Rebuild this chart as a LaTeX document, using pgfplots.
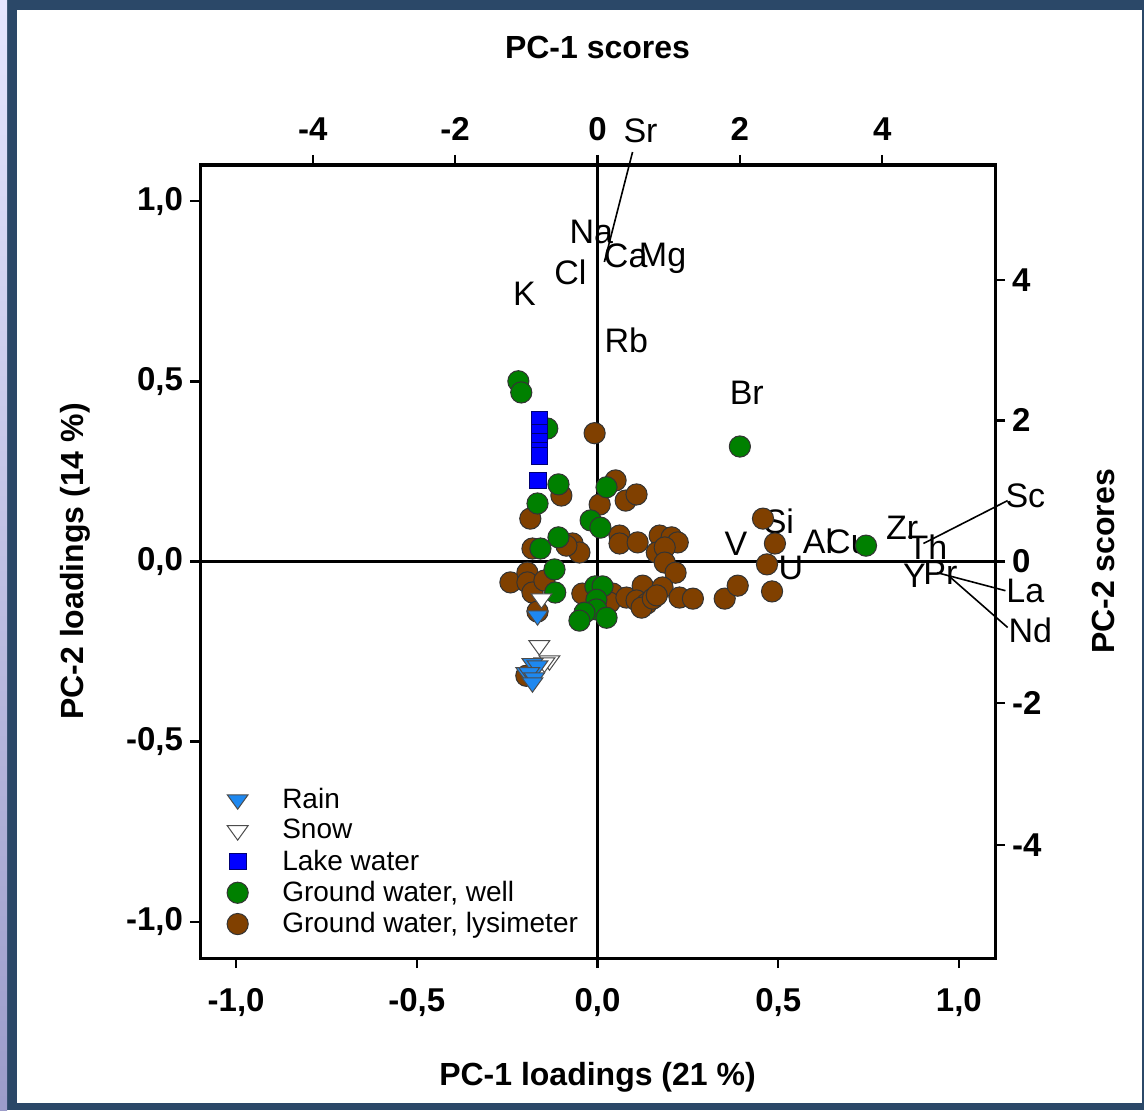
\documentclass[border=0pt]{standalone}
\usepackage{pgfplots}
\pgfplotsset{compat=1.18}
\usepackage{fontspec}
\setmainfont{Liberation Sans}
\definecolor{frame}{HTML}{2B4868}
\definecolor{gwell}{HTML}{008000}
\definecolor{glys}{HTML}{804000}
\definecolor{lake}{HTML}{0000FF}
\definecolor{rain}{HTML}{1E88F0}
\pgfplotsset{
  common/.style={at={(100pt,76pt)}, anchor=south west, width=397.5pt, height=396.5pt, scale only axis,
    xmin=-1.1,xmax=1.1,ymin=-1.1,ymax=1.1, clip=false,
    axis line style={line width=1.5pt},
    tick align=outside, major tick length=5pt, tick style={black,line width=1.3pt},
    ticklabel style={font=\bfseries\fontsize{16.5}{19}\selectfont}},
}
\begin{document}
\begin{tikzpicture}
\useasboundingbox (0,0) rectangle (572pt,555pt);
\fill[frame] (0,0) rectangle (572pt,555pt);
\shade[top color=blue!10!white, bottom color=gray!70!blue!60] (0,0) rectangle (3.5pt,555pt);
\fill[white] (8.5pt,3.5pt) rectangle (571pt,550pt);

\begin{axis}[common,
  xtick pos=left, ytick pos=left,
  xtick={-1,-0.5,0,0.5,1}, xticklabels={{-1,0},{-0,5},{0,0},{0,5},{1,0}},
  ytick={-1,-0.5,0,0.5,1}, yticklabels={{-1,0},{-0,5},{0,0},{0,5},{1,0}},
  xticklabel style={yshift=-6.5pt},
  xlabel={PC-1 loadings (21 \%)}, ylabel={PC-2 loadings (14 \%)},
  every axis x label/.style={at={(axis description cs:0.5,0)}, yshift=-59.5pt, anchor=center, font=\bfseries\fontsize{16}{19}\selectfont},
  every axis y label/.style={at={(axis description cs:0,0.5)}, xshift=-62.5pt, anchor=center, rotate=90, font=\bfseries\fontsize{16}{19}\selectfont},
  legend style={draw=none, fill=none, at={(0.026,0.225)}, anchor=north west,
    font=\fontsize{14}{15.5}\selectfont, row sep=0pt,
    /tikz/every odd column/.append style={column sep=15pt}},
  legend cell align=left,
]
\addplot[forget plot, black, line width=1.2pt] coordinates {(-1.1,0) (1.1,0)};
\addplot[forget plot, black, line width=1.2pt] coordinates {(0,-1.1) (0,1.1)};

% Ground water, lysimeter
\addplot[forget plot, only marks, mark=*, mark size=5.3pt, mark options={fill=glys, draw=black!80, line width=0.5pt}] coordinates {
(-0.008,0.356) (0.050,0.225) (-0.100,0.183) (0.006,0.158) (0.078,0.169) (0.108,0.186)
(-0.186,0.119) (0.061,0.072) (0.061,0.050) (0.111,0.053) (0.172,0.072) (0.205,0.067)
(0.222,0.053) (0.164,0.025) (0.186,0.039) (0.186,-0.003) (0.216,-0.031)
(-0.180,0.036) (-0.069,0.050) (-0.050,0.025) (-0.086,0.044)
(-0.241,-0.058) (-0.194,-0.031) (-0.194,-0.058) (-0.180,-0.086) (-0.147,-0.053) (-0.166,-0.139)
(-0.042,-0.089) (0.019,-0.089) (0.042,-0.089) (0.033,-0.114) (0.080,-0.100) (0.125,-0.067)
(0.108,-0.108) (0.136,-0.117) (0.122,-0.128) (0.180,-0.072) (0.153,-0.103) (0.164,-0.094)
(0.227,-0.100) (0.264,-0.103) (0.352,-0.103) (0.388,-0.067)
(0.458,0.119) (0.491,0.050) (0.469,-0.008) (0.483,-0.083) (-0.197,-0.317)
};
% Ground water, well
\addplot[forget plot, only marks, mark=*, mark size=5.3pt, mark options={fill=gwell, draw=black!80, line width=0.5pt}] coordinates {
(-0.219,0.500) (-0.211,0.469) (-0.139,0.369) (-0.108,0.214) (-0.166,0.161) (0.025,0.206)
(-0.019,0.114) (0.008,0.094) (-0.108,0.067) (-0.158,0.036) (0.394,0.319) (0.743,0.044)
(-0.119,-0.022) (-0.117,-0.086) (-0.006,-0.069) (0.014,-0.069) (-0.003,-0.106)
(-0.003,-0.133) (-0.036,-0.142) (-0.050,-0.164) (0.025,-0.156)
};
% Lake water
\addplot[forget plot, only marks, mark=square*, mark size=4.2pt, mark options={fill=lake, draw=blue!45!black, line width=0.4pt}] coordinates {
(-0.161,0.392) (-0.161,0.358) (-0.161,0.331) (-0.161,0.308) (-0.161,0.294) (-0.166,0.225)
};
% Snow
\addplot[forget plot, only marks, mark=triangle*, mark size=6pt, mark options={rotate=180, yscale=0.8, fill=white, draw=black!70, line width=0.5pt}] coordinates {
(-0.155,-0.103) (-0.161,-0.233) (-0.133,-0.275) (-0.147,-0.281)
};
% Rain
\addplot[forget plot, only marks, mark=triangle*, mark size=6pt, mark options={rotate=180, yscale=0.8, fill=rain, draw=black!70, line width=0.5pt}] coordinates {
(-0.166,-0.150) (-0.180,-0.283) (-0.166,-0.289) (-0.197,-0.308) (-0.189,-0.308) (-0.175,-0.322) (-0.180,-0.336)
};

\addlegendimage{only marks, mark=triangle*, mark size=6pt, mark options={rotate=180, yscale=0.8, fill=rain, draw=black!70, line width=0.5pt}}
\addlegendentry{Rain}
\addlegendimage{only marks, mark=triangle*, mark size=6pt, mark options={rotate=180, yscale=0.8, fill=white, draw=black!70, line width=0.5pt}}
\addlegendentry{Snow}
\addlegendimage{only marks, mark=square*, mark size=4.2pt, mark options={fill=lake, draw=blue!45!black, line width=0.4pt}}
\addlegendentry{Lake water}
\addlegendimage{only marks, mark=*, mark size=5.3pt, mark options={fill=gwell, draw=black!80, line width=0.5pt}}
\addlegendentry{Ground water, well}
\addlegendimage{only marks, mark=*, mark size=5.3pt, mark options={fill=glys, draw=black!80, line width=0.5pt}}
\addlegendentry{Ground water, lysimeter}

% loading labels
\begin{scope}[every node/.style={font=\fontsize{17}{19}\selectfont, inner sep=0pt}]
\node at (axis cs:0.119,1.194) {Sr};
\node at (axis cs:-0.017,0.914) {Na};
\node at (axis cs:0.078,0.847) {Ca};
\node at (axis cs:0.180,0.842) {Mg};
\node at (axis cs:-0.075,0.803) {Cl};
\node at (axis cs:-0.202,0.742) {K};
\node at (axis cs:0.080,0.614) {Rb};
\node at (axis cs:0.413,0.469) {Br};
\node at (axis cs:0.502,0.111) {Si};
\node at (axis cs:0.383,0.050) {V};
\node at (axis cs:0.610,0.056) {Al};
\node at (axis cs:0.693,0.056) {Cu};
\node at (axis cs:0.535,-0.017) {U};
\node at (axis cs:0.843,0.094) {Zr};
\node at (axis cs:0.913,0.039) {Th};
\node at (axis cs:0.877,-0.039) {Y};
\node at (axis cs:0.949,-0.031) {Pr};
\node at (axis cs:1.184,0.181) {Sc};
\node at (axis cs:1.184,-0.081) {La};
\node at (axis cs:1.198,-0.192) {Nd};
\end{scope}
\draw[line width=0.8pt] (axis cs:0.097,1.136) -- (axis cs:0.019,0.831);
\draw[line width=0.8pt] (axis cs:1.135,0.169) -- (axis cs:0.902,0.050);
\draw[line width=0.8pt] (axis cs:1.129,-0.081) -- (axis cs:0.940,-0.031);
\draw[line width=0.8pt] (axis cs:1.135,-0.183) -- (axis cs:0.971,-0.039);
\end{axis}

\begin{axis}[common,
  xtick pos=right, xticklabel pos=right, ytick pos=right, yticklabel pos=right,
  xtick={-0.7878,-0.3939,0,0.3939,0.7878}, xticklabels={-4,-2,0,2,4},
  ytick={-0.787,-0.392,0,0.392,0.781}, yticklabels={-4,-2,0,2,4},
  xticklabel style={yshift=3.5pt},
  xlabel={PC-1 scores}, ylabel={PC-2 scores},
  every axis x label/.style={at={(axis description cs:0.5,1)}, yshift=59pt, anchor=center, font=\bfseries\fontsize{16}{19}\selectfont},
  every axis y label/.style={at={(axis description cs:1,0.5)}, xshift=54pt, anchor=center, rotate=90, font=\bfseries\fontsize{16}{19}\selectfont},
]
\end{axis}
\end{tikzpicture}
\end{document}
